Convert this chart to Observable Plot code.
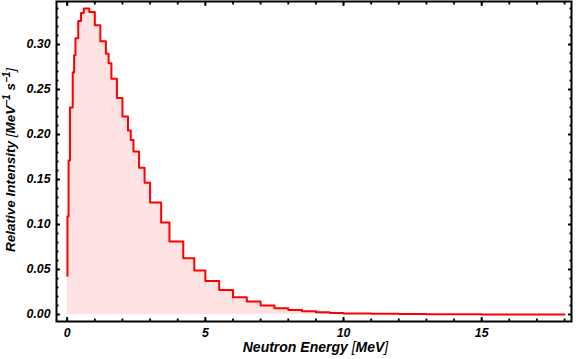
<!DOCTYPE html>
<html><head><meta charset="utf-8">
<script src="https://cdn.jsdelivr.net/npm/d3@7"></script>
<script src="https://cdn.jsdelivr.net/npm/@observablehq/plot@0.6"></script>
<style>body{margin:0;background:#fff} svg{display:block}</style>
</head><body><div id="chart"></div>
<script>
// Bin edges (MeV) and relative intensity per bin (MeV^-1 s^-1)
const binEdges = [0, 0.01, 0.05, 0.1, 0.2, 0.25, 0.3, 0.4, 0.5, 0.6, 0.8, 1.0, 1.2, 1.4, 1.5, 1.6, 1.8, 2.0, 2.2, 2.3, 2.4, 2.6, 2.8, 3.0, 3.4, 3.7, 4.2, 4.6, 5.0, 5.5, 6.0, 6.5, 7.0, 7.5, 8.0, 8.5, 9.0, 9.5, 10, 11, 12, 13, 14, 15, 16, 17, 18];
const intensities = [0.043, 0.109, 0.171, 0.230, 0.269, 0.288, 0.307, 0.326, 0.335, 0.340, 0.336, 0.3215, 0.3037, 0.2896, 0.2793, 0.2619, 0.2407, 0.220, 0.2044, 0.194, 0.181, 0.163, 0.1463, 0.1244, 0.1022, 0.0811, 0.0625, 0.0489, 0.0372, 0.0272, 0.0192, 0.0144, 0.0100, 0.0069, 0.0050, 0.0035, 0.0024, 0.0017, 0.0012, 0.0008, 0.0005, 0.0003, 0.0002, 0.0001, 0.0001, 0.00005];

const xTickValues = [0, 5, 10, 15];
const xMinorTicks = [0,1,2,3,4,5,6,7,8,9,10,11,12,13,14,15,16,17,18];
const yTickValues = [0, 0.05, 0.10, 0.15, 0.20, 0.25, 0.30];
const yMinorTicks = d3.range(0, 35).map(i => i / 100);

const xLabel = "Neutron Energy";
const yLabel = "Relative Intensity";

const points = binEdges.map((e, i) => ({E: e, I: intensities[Math.min(i, intensities.length - 1)]}));

const W = 576, H = 359;
const mL = 56, mR = 5, mT = 1, mB = 38;

const tickStyle = {stroke: "black", strokeWidth: 1.8};

const plot = Plot.plot({
  width: W, height: H,
  marginLeft: mL, marginRight: mR, marginTop: mT, marginBottom: mB,
  style: {fontFamily: "'Liberation Sans', Arial, sans-serif", fontSize: "12.3px", fontWeight: "bold", fontStyle: "italic", background: "#fff", overflow: "visible"},
  x: {domain: [-0.387, 18.25]},
  y: {domain: [-0.0078, 0.3478]},
  marks: [
    Plot.areaY(points, {x: "E", y: "I", curve: "step-after", fill: "#ffe3e3"}),
    Plot.lineY(points, {x: "E", y: "I", curve: "step-after", stroke: "#ff0000", strokeWidth: 2}),
    // bottom
    Plot.axisX(xTickValues, {anchor: "bottom", tickSize: 0, tickPadding: 7, tickFormat: d => String(d), label: null, fill: "black"}),
    Plot.axisX(xTickValues, {anchor: "bottom", tickSize: -4, text: null, label: null, ...tickStyle}),
    Plot.axisX(xMinorTicks, {anchor: "bottom", tickSize: -2.5, text: null, label: null, ...tickStyle}),
    // top
    Plot.axisX(xTickValues, {anchor: "top", tickSize: -4, text: null, label: null, ...tickStyle}),
    Plot.axisX(xMinorTicks, {anchor: "top", tickSize: -2.5, text: null, label: null, ...tickStyle}),
    // left
    Plot.axisY(yTickValues, {anchor: "left", tickSize: 0, tickPadding: 6, tickFormat: d3.format(".2f"), label: null, fill: "black"}),
    Plot.axisY(yTickValues, {anchor: "left", tickSize: -4, text: null, label: null, ...tickStyle}),
    Plot.axisY(yMinorTicks, {anchor: "left", tickSize: -2.5, text: null, label: null, ...tickStyle}),
    // right
    Plot.axisY(yTickValues, {anchor: "right", tickSize: -4, text: null, label: null, ...tickStyle}),
    Plot.axisY(yMinorTicks, {anchor: "right", tickSize: -2.5, text: null, label: null, ...tickStyle}),
    Plot.frame({stroke: "black", strokeWidth: 2})
  ]
});

document.getElementById("chart").appendChild(plot);

// Axis titles with superscripts
const svg = d3.select(plot);
const fx = (mL + (W - mR)) / 2;
const xt = svg.append("text")
  .attr("x", fx + 2).attr("y", 352)
  .attr("text-anchor", "middle")
  .attr("font-size", 14).attr("font-weight", "bold").attr("font-style", "italic").attr("fill", "black");
xt.append("tspan").text(xLabel + " ");
xt.append("tspan").attr("font-weight", "normal").text("[");
xt.append("tspan").text("MeV");
xt.append("tspan").attr("font-weight", "normal").text("]");

const yt = svg.append("text")
  .attr("transform", `translate(15,160) rotate(-90)`)
  .attr("text-anchor", "middle")
  .attr("font-size", 13.5).attr("font-weight", "bold").attr("font-style", "italic").attr("fill", "black");
yt.append("tspan").text(yLabel + " ");
yt.append("tspan").attr("font-weight", "normal").text("[");
yt.append("tspan").text("MeV");
yt.append("tspan").attr("dy", -5).attr("font-size", 10).text("\u22121");
yt.append("tspan").attr("dy", 5).text(" s");
yt.append("tspan").attr("dy", -5).attr("font-size", 10).text("\u22121");
yt.append("tspan").attr("dy", 5).attr("font-weight", "normal").text("]");
</script>
</body></html>
